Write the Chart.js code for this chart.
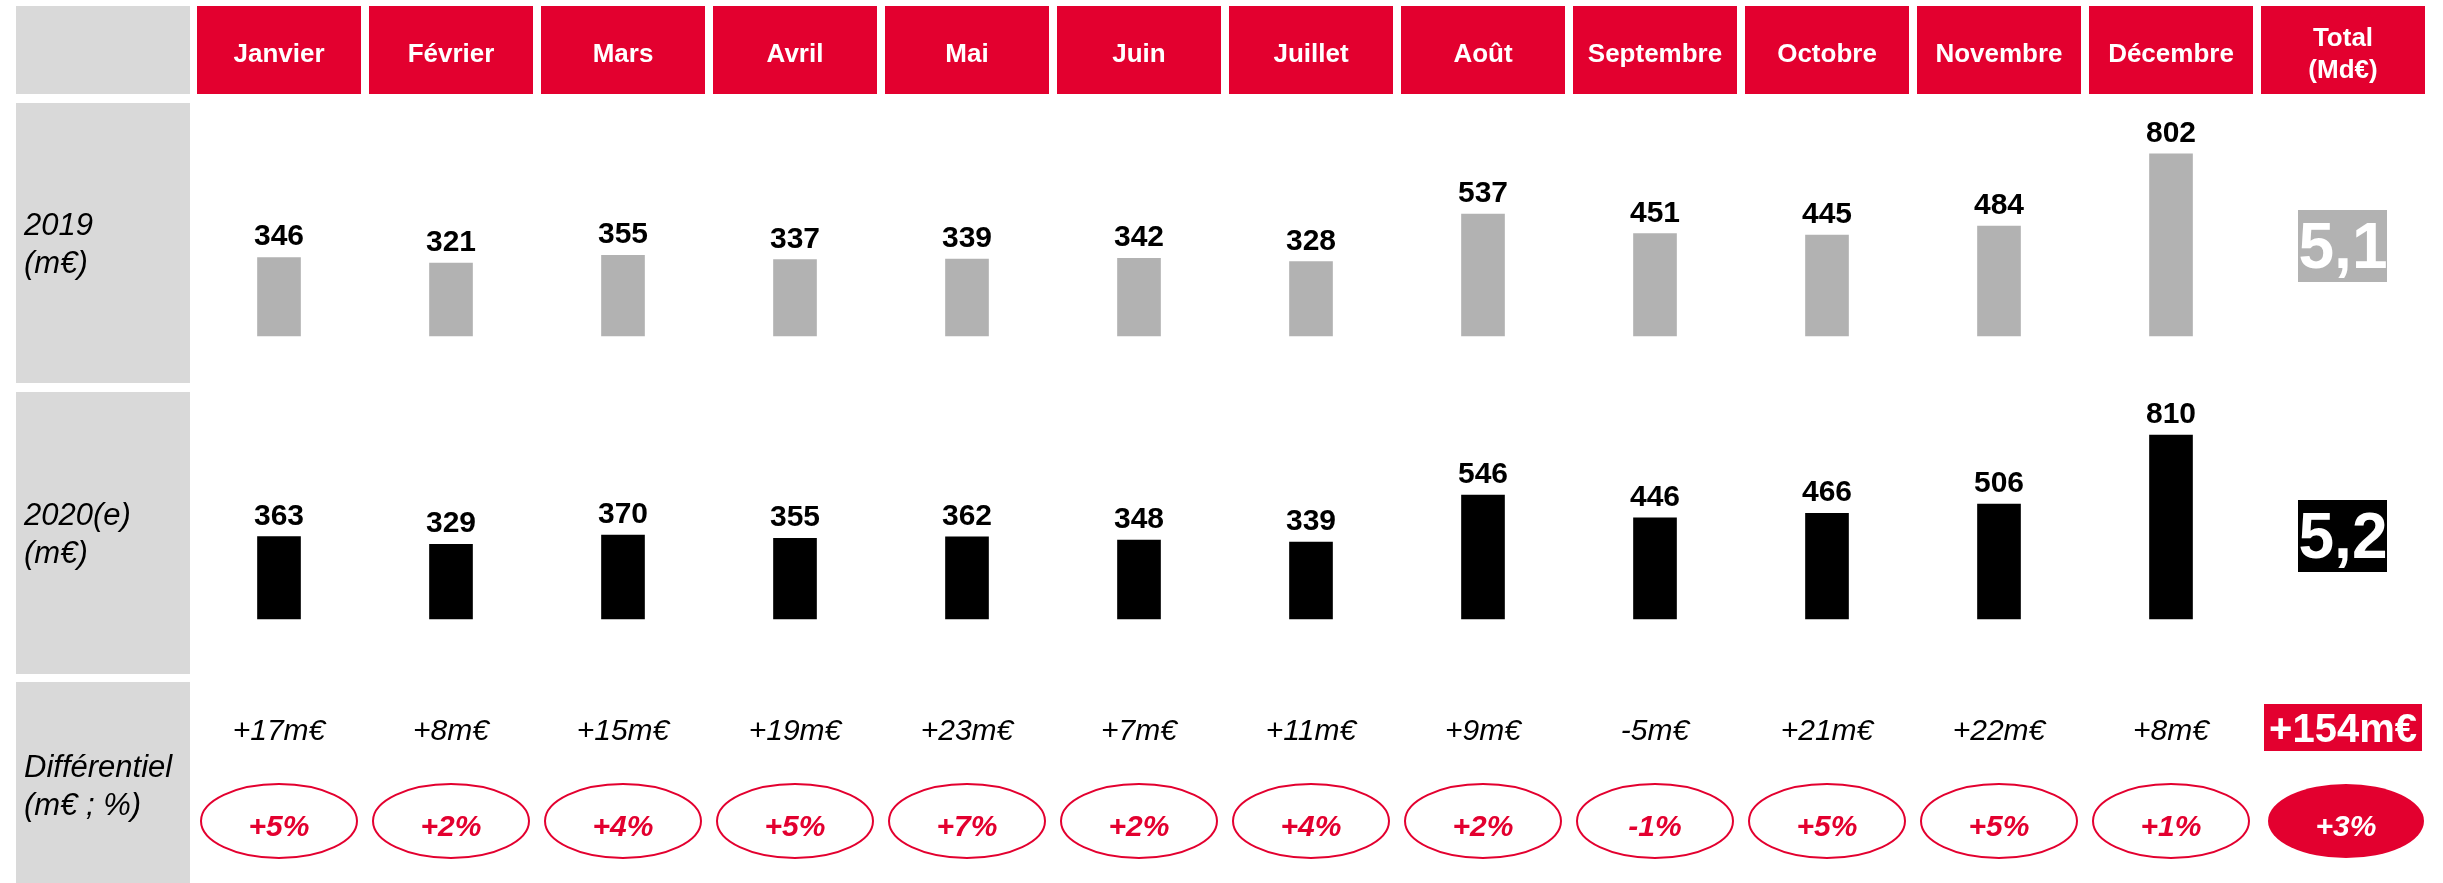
<!DOCTYPE html>
<html lang="fr">
<head>
<meta charset="utf-8">
<title>Ventes mensuelles 2019 / 2020(e)</title>
<script src="https://cdn.jsdelivr.net/npm/chart.js@4.4.1/dist/chart.umd.min.js"></script>
<style>
  html, body { margin: 0; padding: 0; background: #fff; }
  #chart { display: block; }
</style>
</head>
<body>
<canvas id="chart" width="2443" height="883"></canvas>
<script>
const months = ['Janvier', 'Février', 'Mars', 'Avril', 'Mai', 'Juin', 'Juillet', 'Août', 'Septembre', 'Octobre', 'Novembre', 'Décembre'];
const totalHeader = ['Total', '(Md€)'];
const values2019 = [346, 321, 355, 337, 339, 342, 328, 537, 451, 445, 484, 802];
const values2020 = [363, 329, 370, 355, 362, 348, 339, 546, 446, 466, 506, 810];
const diffLabels = ['+17m€', '+8m€', '+15m€', '+19m€', '+23m€', '+7m€', '+11m€', '+9m€', '-5m€', '+21m€', '+22m€', '+8m€'];
const pctLabels = ['+5%', '+2%', '+4%', '+5%', '+7%', '+2%', '+4%', '+2%', '-1%', '+5%', '+5%', '+1%'];
const total2019 = '5,1';
const total2020 = '5,2';
const totalDiff = '+154m€';
const totalPct = '+3%';
const rowLabels = [['2019', '(m€)'], ['2020(e)', '(m€)'], ['Différentiel', '(m€ ; %)']];

const RED = '#e3002f';
const GREY = '#b2b2b2';
const CELL_GREY = '#d9d9d9';
const FONT = '"Liberation Sans", Arial, sans-serif';

// mise en page (px)
const H = 883;
const PX_PER_UNIT = 0.227;
const BASE_2019 = 336;
const BASE_2020 = 619;
const range = H / PX_PER_UNIT;
const y19max = BASE_2019 / PX_PER_UNIT;
const y20max = BASE_2020 / PX_PER_UNIT;

const rows = [
  { top: 6, bottom: 94 },
  { top: 103, bottom: 383 },
  { top: 392, bottom: 674 },
  { top: 682, bottom: 890 }
];

const tablePlugin = {
  id: 'tableau',
  beforeDraw(chart) {
    const ctx = chart.ctx;
    const x = chart.scales.x;
    ctx.save();

    // colonne des libellés
    ctx.fillStyle = CELL_GREY;
    rows.forEach(r => ctx.fillRect(16, r.top, 174, r.bottom - r.top));
    ctx.fillStyle = '#000';
    ctx.font = 'italic 31px ' + FONT;
    ctx.textAlign = 'left';
    ctx.textBaseline = 'alphabetic';
    rowLabels.forEach((lines, i) => {
      const r = rows[i + 1];
      const mid = i === 2 ? 785 : (r.top + r.bottom) / 2;
      ctx.fillText(lines[0], 24, mid - 8);
      ctx.fillText(lines[1], 24, mid + 30);
    });

    // en-têtes rouges
    chart.data.labels.forEach((lab, i) => {
      const cx = x.getPixelForValue(i);
      ctx.fillStyle = RED;
      ctx.fillRect(cx - 82, rows[0].top, 164, rows[0].bottom - rows[0].top);
      ctx.fillStyle = '#fff';
      ctx.font = 'bold 26px ' + FONT;
      ctx.textAlign = 'center';
      if (Array.isArray(lab)) {
        ctx.fillText(lab[0], cx, 46);
        ctx.fillText(lab[1], cx, 78);
      } else {
        ctx.fillText(lab, cx, 62);
      }
    });
    ctx.restore();
  },
  afterDatasetsDraw(chart) {
    const ctx = chart.ctx;
    const x = chart.scales.x;
    ctx.save();
    ctx.textAlign = 'center';
    ctx.textBaseline = 'alphabetic';

    // valeurs au-dessus des barres
    ctx.fillStyle = '#000';
    ctx.font = 'bold 30px ' + FONT;
    chart.data.datasets.forEach((ds, d) => {
      chart.getDatasetMeta(d).data.forEach((bar, i) => {
        if (ds.data[i] == null) return;
        ctx.fillText(String(ds.data[i]), bar.x, bar.y - 12);
      });
    });

    // différentiel en m€ et en %
    diffLabels.forEach((t, i) => {
      const cx = x.getPixelForValue(i);
      ctx.fillStyle = '#000';
      ctx.font = 'italic 30px ' + FONT;
      ctx.fillText(t, cx, 740);

      ctx.beginPath();
      ctx.ellipse(cx, 821, 78, 37, 0, 0, Math.PI * 2);
      ctx.lineWidth = 2;
      ctx.strokeStyle = RED;
      ctx.stroke();
      ctx.fillStyle = RED;
      ctx.font = 'italic bold 30px ' + FONT;
      ctx.fillText(pctLabels[i], cx, 836);
    });

    // colonne total
    const tx = x.getPixelForValue(months.length);
    ctx.fillStyle = GREY;
    ctx.fillRect(tx - 45, 210, 89, 72);
    ctx.fillStyle = '#000';
    ctx.fillRect(tx - 45, 500, 89, 72);
    ctx.fillStyle = '#fff';
    ctx.font = 'bold 64px ' + FONT;
    ctx.fillText(total2019, tx, 268);
    ctx.fillText(total2020, tx, 558);

    ctx.fillStyle = RED;
    ctx.fillRect(tx - 79, 704, 158, 47);
    ctx.fillStyle = '#fff';
    ctx.font = 'bold 40px ' + FONT;
    ctx.fillText(totalDiff, tx, 742);

    ctx.beginPath();
    ctx.ellipse(tx + 3, 821, 78, 37, 0, 0, Math.PI * 2);
    ctx.fillStyle = RED;
    ctx.fill();
    ctx.fillStyle = '#fff';
    ctx.font = 'italic bold 30px ' + FONT;
    ctx.fillText(totalPct, tx + 3, 836);
    ctx.restore();
  }
};

new Chart(document.getElementById('chart'), {
  type: 'bar',
  data: {
    labels: [...months, totalHeader],
    datasets: [
      {
        label: '2019',
        data: values2019,
        yAxisID: 'y19',
        backgroundColor: GREY,
        barThickness: 43,
        grouped: false
      },
      {
        label: '2020(e)',
        data: values2020,
        yAxisID: 'y20',
        backgroundColor: '#000',
        barThickness: 43,
        grouped: false
      }
    ]
  },
  options: {
    responsive: false,
    devicePixelRatio: 1,
    animation: false,
    layout: { padding: { left: 193, right: 14, top: 0, bottom: 0 } },
    plugins: {
      legend: { display: false },
      title: { display: false },
      tooltip: { enabled: false }
    },
    scales: {
      x: { type: 'category', offset: true, display: false, grid: { display: false } },
      y19: { display: false, min: y19max - range, max: y19max },
      y20: { display: false, min: y20max - range, max: y20max }
    }
  },
  plugins: [tablePlugin]
});
</script>
</body>
</html>
